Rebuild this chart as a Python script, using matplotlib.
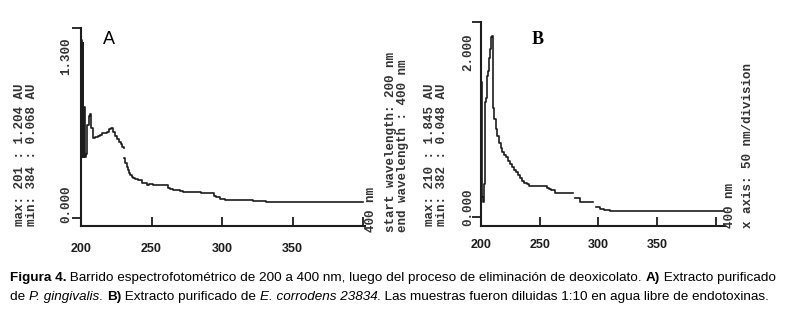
import numpy as np
import matplotlib
matplotlib.use("Agg")
import matplotlib.pyplot as plt
from matplotlib import font_manager

W, H = 785, 328

a_wl = [200.0, 200.3, 200.8, 201.2, 201.6, 202.0, 202.6, 203.4, 204.5,
        205.5, 206.4, 207.3, 208.3, 210.0, 212.0, 213.5, 214.6, 216.5, 218.2,
        219.8, 221.2, 222.9, 224.2, 225.3, 226.8, 228.1, 229.4, 230.3, 230.5,
        230.7, 231.5, 232.3, 233.2, 234.2, 235.1, 235.9, 237.0, 238.2, 239.5,
        240.6, 241.8, 243.0, 244.5, 246.5, 248.0, 251.2, 255.0, 261.9, 263.0,
        265.5, 267.8, 270.0, 272.5, 275.0, 279.6, 285.0, 292.5, 294.5, 296.0,
        298.5, 302.0, 308.0, 315.0, 322.0, 331.5, 400.0]
a_abs = [0.00, 1.22, 0.42, 1.20, 0.42, 0.76, 0.42, 0.44, 0.64,
         0.70, 0.71, 0.62, 0.55, 0.555, 0.56, 0.57, 0.58, 0.58, 0.59,
         0.61, 0.62, 0.59, 0.56, 0.54, 0.52, 0.51, 0.49, 0.48, np.nan,
         0.41, 0.38, 0.35, 0.33, 0.31, 0.295, 0.285, 0.275, 0.267, 0.27,
         0.258, 0.262, 0.244, 0.24, 0.228, 0.232, 0.224, 0.224, 0.21, 0.198,
         0.195, 0.19, 0.186, 0.182, 0.18, 0.176, 0.172, 0.171, 0.155, 0.144,
         0.132, 0.128, 0.125, 0.122, 0.121, 0.114, 0.114]

b_wl = [200.0, 200.2, 200.9, 201.6, 202.3, 203.2, 204.5, 205.0, 206.0, 206.8,
        207.6, 208.2, 209.6, 210.0, 210.6, 211.4, 212.4, 213.6, 215.0, 216.6,
        218.2, 219.8, 221.4, 223.0, 224.6, 226.2, 228.0, 229.8, 231.6, 233.4,
        235.2, 237.0, 238.8, 240.6, 242.4, 256.0, 257.5, 259.5, 262.6, 278.0,
        279.7, 284.5, 295.5, 297.6, 301.0, 305.0, 309.5, 407.0]
b_abs = [0.00, 1.38, 0.20, 0.15, 0.34, 1.18, 1.22, 1.45, 1.50, 1.63,
         1.72, 1.85, 1.86, 1.30, 1.12, 1.00, 0.90, 0.83, 0.76, 0.71,
         0.66, 0.63, 0.61, 0.57, 0.54, 0.51, 0.48, 0.46, 0.43, 0.40,
         0.37, 0.35, 0.335, 0.32, 0.31, 0.29, 0.28, 0.27, 0.245, np.nan,
         0.19, 0.155, np.nan, 0.10, 0.079, 0.07, 0.062, 0.062]

x_ticks = [200, 250, 300, 350, 400]
x_labels = ["200", "250", "300", "350", ""]

ink = "#1c1c1c"
mono = ["Liberation Mono", "DejaVu Sans Mono"]

fig = plt.figure(figsize=(W / 100, H / 100), dpi=100)


def px_axes(l, r, t, b):
    return fig.add_axes([l / W, 1 - b / H, (r - l) / W, (b - t) / H])


def ftext(x, y, s, **kw):
    return fig.text(x / W, 1 - y / H, s, **kw)


def panel(ax, wl, ab, xlim, ylim, ytop, pad):
    ax.plot(wl, ab, drawstyle="steps-post", color=ink, lw=1.2)
    ax.set_xlim(*xlim)
    ax.set_ylim(*ylim)
    for s in ["top", "right"]:
        ax.spines[s].set_visible(False)
    for s in ["left", "bottom"]:
        ax.spines[s].set_linewidth(1.5)
        ax.spines[s].set_color(ink)
    ax.set_xticks(x_ticks)
    ax.set_xticklabels(x_labels, fontfamily="Liberation Sans",
                       fontweight="bold", fontsize=9, color=ink)
    ax.tick_params(axis="x", direction="in", length=6.5, width=1.3,
                   color=ink, pad=pad)
    ax.set_yticks([0, ytop])
    ax.set_yticklabels([])
    ax.tick_params(axis="y", direction="out", length=6.5, width=1.3, color=ink)
    ax.patch.set_alpha(0)


# panel A
axA = px_axes(81, 365, 28, 226)
panel(axA, a_wl, a_abs, (200, 401.4), (-0.053, 1.3), 1.3, 12.5)
# panel B
axB = px_axes(481, 725, 22, 226)
panel(axB, b_wl, b_abs, (200, 407.7), (-0.096, 2.0), 2.0, 9)

rot = dict(rotation=90, ha="center", fontfamily=mono, fontsize=9,
           fontweight="bold", color="#333333")

# textos del espectrofotómetro, panel A
ftext(20, 226, "max: 201 : 1.204 AU", va="bottom", **rot)
ftext(32, 226, "min: 384 : 0.068 AU", va="bottom", **rot)
ftext(66, 56, "1.300", va="center", **rot)
ftext(66, 223, "0.000", va="bottom", **rot)
ftext(371, 232, "400 nm", va="bottom", **rot)
ftext(391, 232, "start wavelength: 200 nm", va="bottom", **rot)
ftext(403, 232, "end wavelength : 400 nm", va="bottom", **rot)
ftext(109, 39, "A", ha="center", va="center", fontsize=13,
      fontfamily="Liberation Sans", color="black")

# panel B
ftext(430, 226, "max: 210 : 1.845 AU", va="bottom", **rot)
ftext(442, 226, "min: 382 : 0.048 AU", va="bottom", **rot)
ftext(468, 52, "2.000", va="center", **rot)
ftext(468, 226, "0.000", va="bottom", **rot)
ftext(730, 228, "400 nm", va="bottom", **rot)
ftext(748, 228, "x axis: 50 nm/division", va="bottom", **rot)
ftext(538, 39, "B", ha="center", va="center", fontsize=13,
      fontfamily="Liberation Serif", fontweight="bold", color="black")

# pie de figura con negritas y cursivas
names = {f.name for f in font_manager.fontManager.ttflist}
cap_font = "Liberation Sans Narrow" if "Liberation Sans Narrow" in names else "Liberation Sans"

line1 = [("Figura 4.", "bold", "normal"),
         (" Barrido espectrofotométrico de 200 a 400 nm, luego del proceso de "
          "eliminación de deoxicolato. ", "normal", "normal"),
         ("A)", "bold", "normal"),
         (" Extracto purificado", "normal", "normal")]
line2 = [("de ", "normal", "normal"),
         ("P. gingivalis", "normal", "italic"),
         (". ", "normal", "normal"),
         ("B)", "bold", "normal"),
         (" Extracto purificado de ", "normal", "normal"),
         ("E. corrodens 23834", "normal", "italic"),
         (". Las muestras fueron diluidas 1:10 en agua libre de endotoxinas.",
          "normal", "normal")]

renderer = fig.canvas.get_renderer()


def draw_runs(runs, x0, y, size, draw=True):
    x = x0
    objs = []
    for s, wgt, sty in runs:
        t = ftext(x, y, s, fontsize=size, fontweight=wgt, fontstyle=sty,
                  fontfamily=cap_font, va="center", ha="left", color="black")
        bb = t.get_window_extent(renderer=renderer)
        x += bb.width
        objs.append(t)
    if not draw:
        for t in objs:
            t.remove()
    return x - x0


trial = 10.0
wid = draw_runs(line1, 10, 278, trial, draw=False)
cap_size = trial * 766 / wid
draw_runs(line1, 10, 278, cap_size)
draw_runs(line2, 10, 297, cap_size)

fig.savefig("out.png", dpi=100, facecolor="white")
